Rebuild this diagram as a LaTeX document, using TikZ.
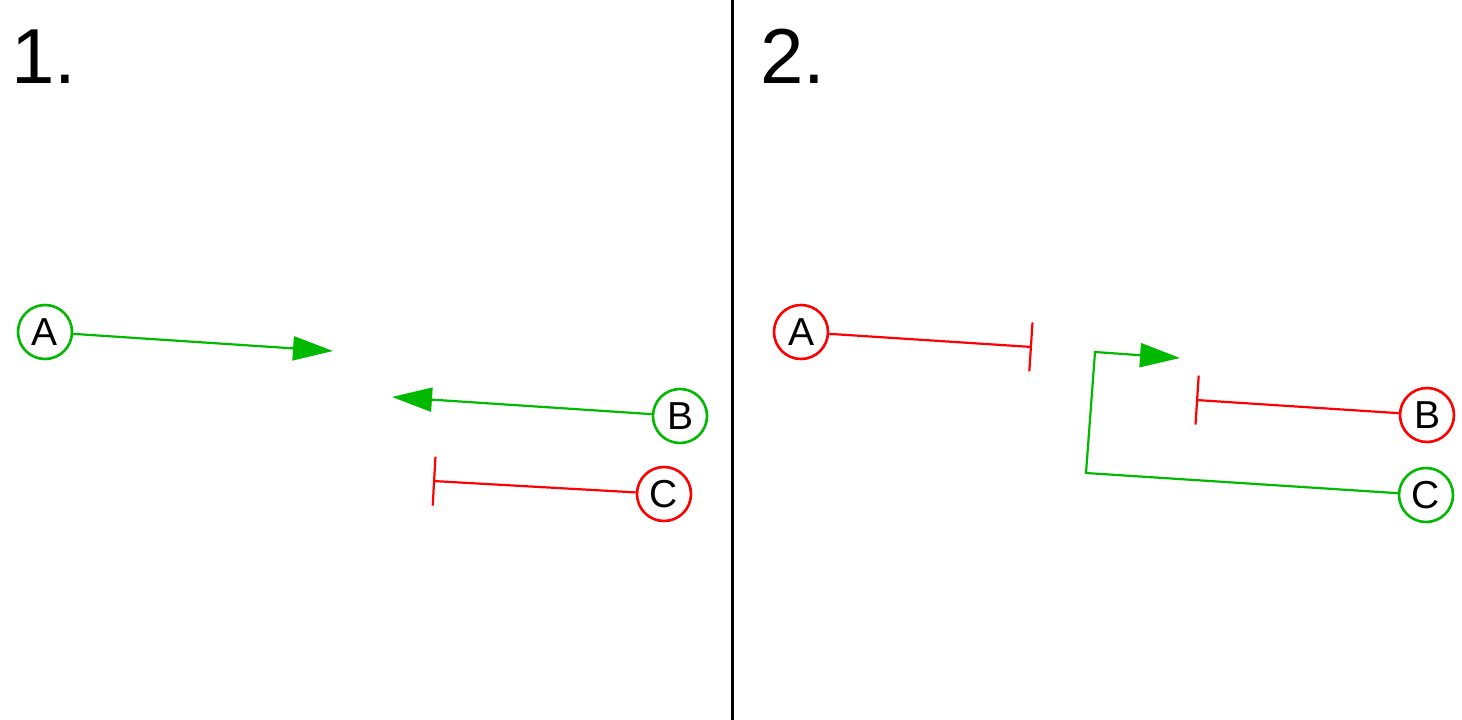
\documentclass[tikz,border=0pt]{standalone}
\usepackage{fontspec}
\setmainfont{Liberation Sans}
\usetikzlibrary{arrows.meta}
\definecolor{grn}{RGB}{0,185,0}
\definecolor{rd}{RGB}{255,0,0}
\begin{document}
\begin{tikzpicture}[x=1pt,y=-1pt,
  gene/.style={circle,draw,line width=2.6pt,minimum size=54pt,inner sep=0pt,font=\fontsize{39}{39}\selectfont},
  act/.style={draw=grn,line width=2.2pt,-{Triangle[length=40pt,width=24pt]}},
  inh/.style={draw=rd,line width=2.2pt,-{Bar[width=49pt]}},
  title/.style={anchor=base west,inner sep=0pt,font=\fontsize{78}{78}\selectfont}]
\useasboundingbox (0,0) rectangle (1462,720);
\draw[line width=2.2pt] (732.5,0) coordinate (dtop) -- (732.5,720) coordinate (dbot);
% panel 1
\node[title] (t1) at (11,83) {1.};
\node[gene,draw=grn] (A1) at (45,332) {A};
\node[gene,draw=grn] (B1) at (680,416) {B};
\node[gene,draw=rd] (C1) at (664,494) {C};
\coordinate (a1) at (333,351);
\coordinate (b1) at (392,397);
\coordinate (c1) at (433,481);
\draw[act] (A1) -- (a1);
\draw[act] (B1) -- (b1);
\draw[inh] (C1) -- (c1);
% panel 2
\node[title] (t2) at (760,83) {2.};
\node[gene,draw=rd] (A2) at (801,332) {A};
\node[gene,draw=rd] (B2) at (1427,415) {B};
\node[gene,draw=grn] (C2) at (1426,495) {C};
\coordinate (a2) at (1032,347);
\coordinate (b2) at (1196,400);
\coordinate (p1) at (1086,473);
\coordinate (p2) at (1095,352);
\coordinate (c2) at (1180,358);
\draw[inh] (A2) -- (a2);
\draw[inh] (B2) -- (b2);
\draw[act] (C2) -- (p1) -- (p2) -- (c2);
\end{tikzpicture}
\end{document}
